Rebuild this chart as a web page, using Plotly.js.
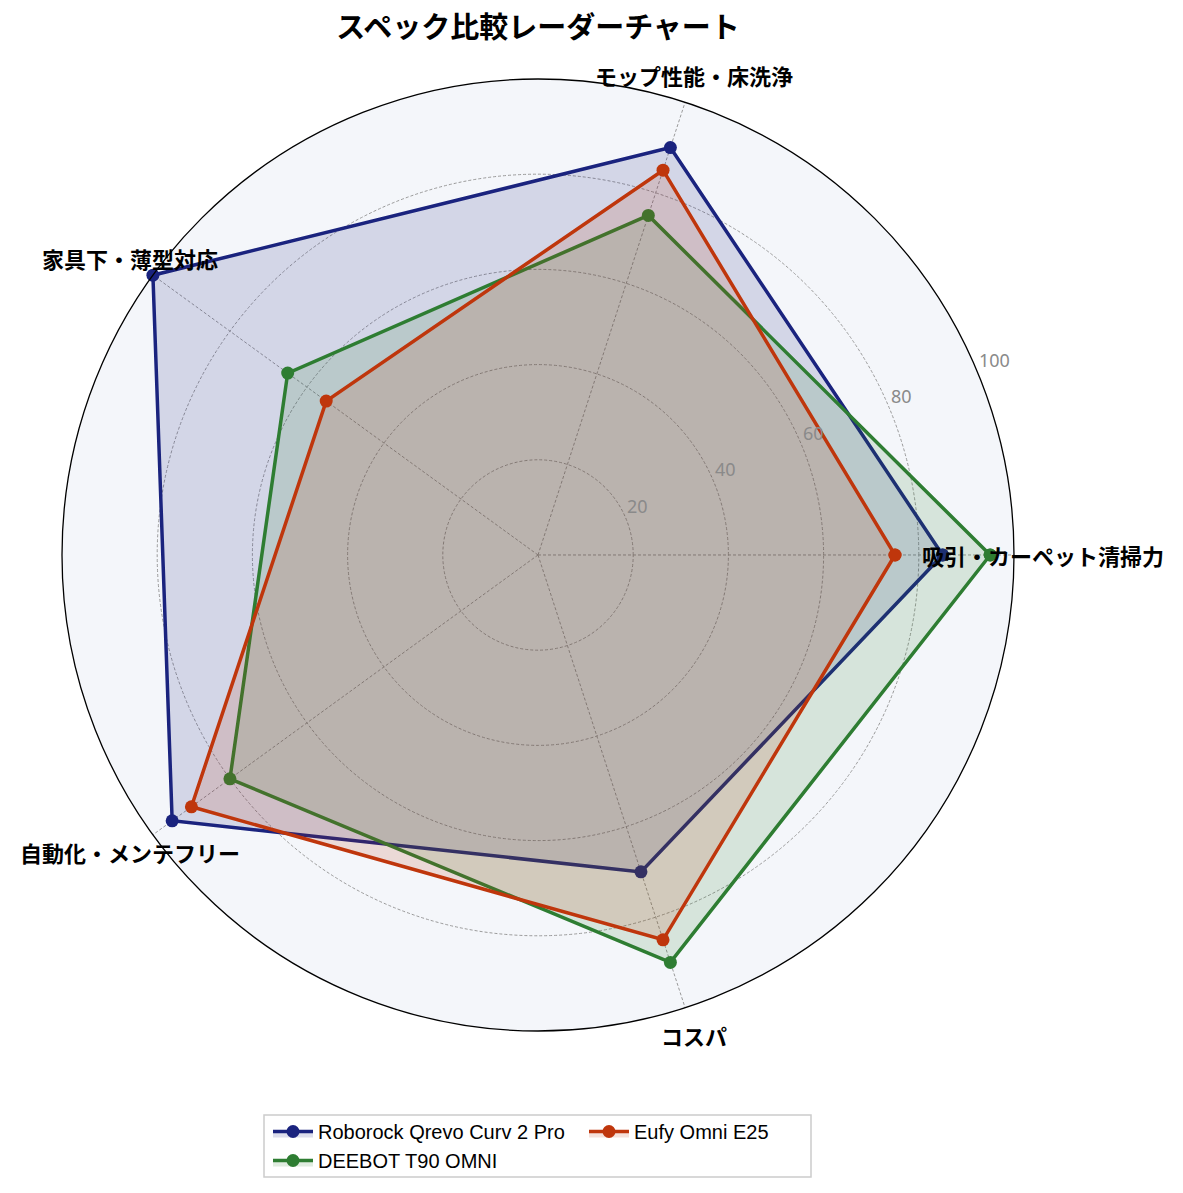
<!DOCTYPE html>
<html>
<head>
<meta charset="utf-8">
<script src="https://cdn.plot.ly/plotly-3.0.1.min.js"></script>
<style>
  html, body { margin: 0; padding: 0; background: #fff; }
  #chart { width: 1183px; height: 1193px; }
</style>
</head>
<body>
<div id="chart"></div>
<script>
// categories and scores (0-100)
const categories = ['吸引・カーペット清掃力', 'モップ性能・床洗浄', '家具下・薄型対応', '自動化・メンテフリー', 'コスパ'];
const roborock = [85, 90, 100, 95, 70];
const deebot = [95, 75, 65, 80, 90];
const eufy = [75, 85, 55, 90, 85];
const radialTicks = [20, 40, 60, 80, 100];
const radialMax = 100;
const radialLabelAngle = 22.5;

const JP = '"Noto Sans CJK JP", "Noto Sans", sans-serif';
const W = 1183, H = 1193;
const M = { l: 62, r: 169, t: 0, b: 0 };
const polarDomain = { x: [0, 1], y: [0.1358, 0.9338] };

// close the polygon
const close = arr => arr.concat([arr[0]]);

function series(name, values, color, fill, legend) {
    return {
        type: 'scatterpolar',
        mode: 'lines+markers',
        name: name,
        r: close(values),
        theta: close(categories),
        fill: 'toself',
        fillcolor: fill,
        line: { color: color, width: 3.5 },
        marker: { color: color, size: 13 },
        legend: legend,
        hoverinfo: 'name+r'
    };
}

const traces = [
    series('Roborock Qrevo Curv 2 Pro', roborock, '#1a237e', 'rgba(26,35,126,0.15)', 'legend'),
    series('DEEBOT T90 OMNI', deebot, '#2e7d32', 'rgba(46,125,50,0.15)', 'legend'),
    series('Eufy Omni E25', eufy, '#bf360c', 'rgba(191,54,12,0.15)', 'legend2')
];

// geometry of the polar subplot, used to place the text labels
const plotW = W - M.l - M.r, plotH = H - M.t - M.b;
const radiusPx = Math.min(plotW * (polarDomain.x[1] - polarDomain.x[0]),
                          plotH * (polarDomain.y[1] - polarDomain.y[0])) / 2;
const cxPaper = (polarDomain.x[0] + polarDomain.x[1]) / 2;
const cyPaper = (polarDomain.y[0] + polarDomain.y[1]) / 2;
const toPaper = (rPx, deg) => {
    const a = deg * Math.PI / 180;
    return { x: cxPaper + rPx * Math.cos(a) / plotW, y: cyPaper + rPx * Math.sin(a) / plotH };
};

// category labels, centred just outside the outer ring
const labelAnnotations = categories.map((c, i) => {
    const p = toPaper(radiusPx * 1.06, i * 360 / categories.length);
    return {
        text: '<b>' + c + '</b>',
        xref: 'paper', yref: 'paper', x: p.x, y: p.y,
        xanchor: 'center', yanchor: 'middle',
        showarrow: false,
        font: { family: JP, size: 22, color: '#000' }
    };
});

// radial tick labels, matplotlib style (anchored bottom-left on the 22.5 deg spoke)
const tickAnnotations = radialTicks.map(t => {
    const p = toPaper(radiusPx * t / radialMax, radialLabelAngle);
    return {
        text: String(t),
        xref: 'paper', yref: 'paper', x: p.x, y: p.y,
        xanchor: 'left', yanchor: 'bottom',
        showarrow: false,
        borderpad: 0,
        font: { family: '"Noto Sans", "DejaVu Sans", sans-serif', size: 18, color: '#8a8a8a' }
    };
});

const legendFont = { family: '"Liberation Sans", Arial, sans-serif', size: 20, color: '#000' };

const layout = {
    width: W,
    height: H,
    margin: M,
    paper_bgcolor: '#ffffff',
    font: { family: JP, color: '#000' },
    title: {
        text: 'スペック比較レーダーチャート',
        font: { family: JP, size: 29, color: '#000', weight: 'bold' },
        x: 0.4548, xanchor: 'center',
        y: 0.977, yanchor: 'middle'
    },
    polar: {
        domain: polarDomain,
        bgcolor: '#f4f6fa',
        radialaxis: {
            range: [0, radialMax],
            tickvals: radialTicks,
            angle: radialLabelAngle,
            showticklabels: false,
            showline: false,
            ticks: '',
            gridcolor: '#9a9a9a',
            griddash: '3px,2px',
            gridwidth: 0.8
        },
        angularaxis: {
            type: 'category',
            categoryarray: categories,
            rotation: 0,
            direction: 'counterclockwise',
            showticklabels: false,
            ticks: '',
            showline: true,
            linecolor: '#000',
            linewidth: 1.3,
            gridcolor: '#9a9a9a',
            griddash: '3px,2px',
            gridwidth: 0.8
        }
    },
    annotations: labelAnnotations.concat(tickAnnotations),
    showlegend: true,
    legend: {
        orientation: 'v',
        x: (268 - M.l) / plotW, xanchor: 'left',
        y: 1 - 1112 / H, yanchor: 'top',
        itemwidth: 40,
        bgcolor: 'rgba(0,0,0,0)',
        borderwidth: 0,
        font: legendFont,
        traceorder: 'normal'
    },
    legend2: {
        orientation: 'v',
        x: (584 - M.l) / plotW, xanchor: 'left',
        y: 1 - 1112 / H, yanchor: 'top',
        itemwidth: 40,
        bgcolor: 'rgba(0,0,0,0)',
        borderwidth: 0,
        font: legendFont
    },
    // frame drawn around both legend columns
    shapes: [{
        type: 'rect',
        xref: 'paper', yref: 'paper',
        x0: (264 - M.l) / plotW, x1: (811 - M.l) / plotW,
        y0: 1 - 1177 / H, y1: 1 - 1115 / H,
        line: { color: '#cccccc', width: 1.5 },
        fillcolor: 'rgba(0,0,0,0)'
    }]
};

Plotly.newPlot('chart', traces, layout, { displayModeBar: false });
</script>
</body>
</html>
